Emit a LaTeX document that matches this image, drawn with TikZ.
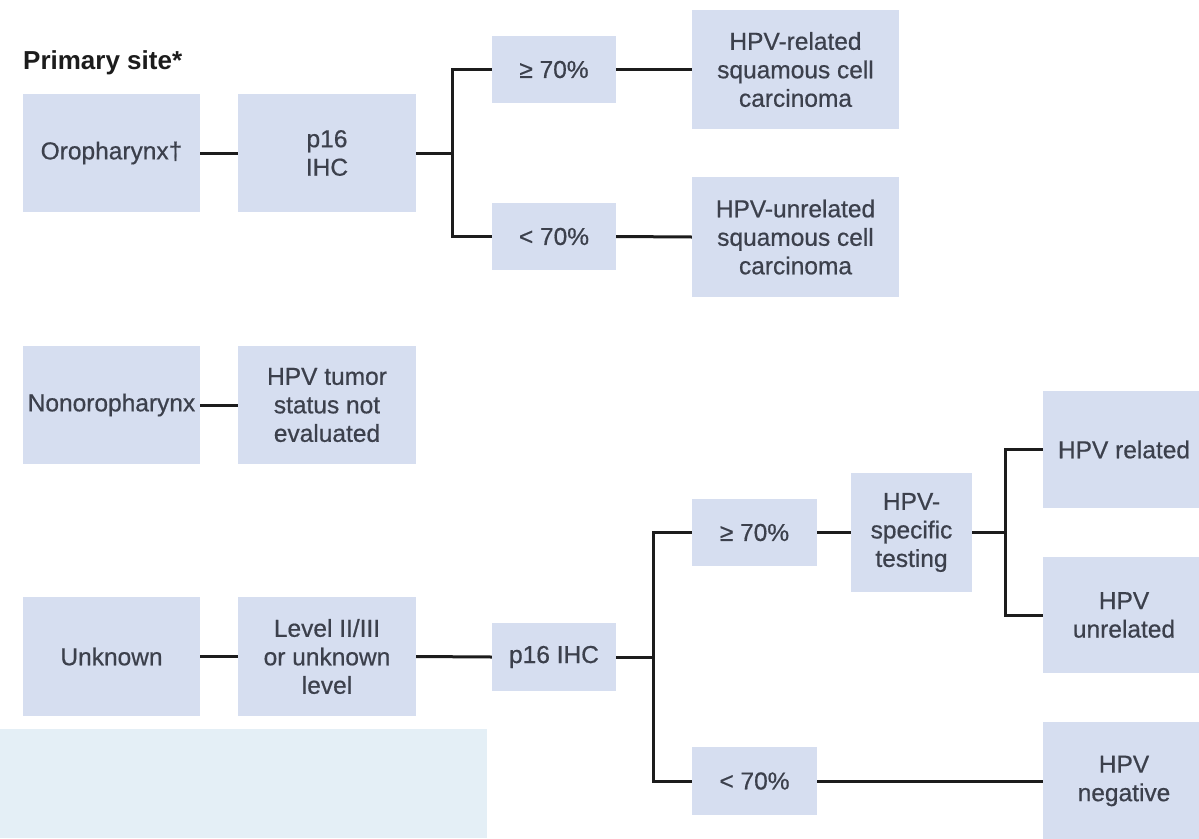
\documentclass[tikz,border=0pt]{standalone}
\usepackage{fontspec}
\setmainfont{Liberation Sans}
\newfontfamily\boxfont[FakeBold=0.6]{Liberation Sans}
\definecolor{boxfill}{HTML}{D6DEF0}
\definecolor{boxtext}{HTML}{3C404C}
\definecolor{linecol}{HTML}{1C1C1C}
\definecolor{panel}{HTML}{E4EFF6}
\begin{document}
\begin{tikzpicture}[x=1pt,y=-1pt,
  bx/.style={fill=boxfill,draw=none,inner sep=0pt,align=center,text=boxtext,
    font=\boxfont\fontsize{24.5}{28.5}\selectfont},
  con/.style={draw=linecol,line width=3pt}]
\useasboundingbox (0,0) rectangle (1199,838);
\clip (0,0) rectangle (1199,838);
\fill[white] (0,0) rectangle (1199,838);
\fill[panel] (0,729) rectangle (487,838);

\node[anchor=base west,inner sep=0pt,text=linecol,font=\fontsize{26}{30}\selectfont\bfseries] (title) at (23,69) {Primary site*};

% top row
\node[bx,minimum width=177pt,minimum height=118pt] (oro) at (111.5,153) {Oropharynx†};
\node[bx,minimum width=178pt,minimum height=118pt] (p16a) at (327,153) {p16\\IHC};
\node[bx,minimum width=124pt,minimum height=67pt] (ge1) at (554,69.5) {≥ 70\%};
\node[bx,minimum width=207pt,minimum height=119pt] (rel1) at (795.5,69.5) {HPV-related\\squamous cell\\carcinoma};
\node[bx,minimum width=124pt,minimum height=67pt] (lt1) at (554,236.5) {< 70\%};
\node[bx,minimum width=207pt,minimum height=120pt] (unrel1) at (795.5,237) {HPV-unrelated\\squamous cell\\carcinoma};

% middle row
\node[bx,minimum width=177pt,minimum height=118pt] (non) at (111.5,405) {Nonoropharynx};
\node[bx,minimum width=178pt,minimum height=118pt] (status) at (327,405) {HPV tumor\\status not\\evaluated};

% bottom row
\node[bx,minimum width=177pt,minimum height=119pt] (unk) at (111.5,656.5) {Unknown};
\node[bx,minimum width=178pt,minimum height=119pt] (level) at (327,656.5) {Level II/III\\or unknown\\level};
\node[bx,minimum width=124pt,minimum height=68pt] (p16b) at (554,657) {p16 IHC};
\node[bx,minimum width=125pt,minimum height=67pt] (ge2) at (754.5,532.5) {≥ 70\%};
\node[bx,minimum width=121pt,minimum height=119pt] (spec) at (911.5,532.5) {HPV-\\specific\\testing};
\node[bx,minimum width=125pt,minimum height=68pt] (lt2) at (754.5,781) {< 70\%};
\node[bx,minimum width=162pt,minimum height=117pt] (hrel) at (1124,449.5) {HPV related};
\node[bx,minimum width=162pt,minimum height=116pt] (hunrel) at (1124,615) {HPV\\unrelated};
\node[bx,minimum width=162pt,minimum height=118pt] (hneg) at (1124,781) {HPV\\negative};

\coordinate (b1) at (452,153);
\coordinate (b2) at (653,657);
\coordinate (b3) at (1005,532.5);

\draw[con] (oro.east) -- (p16a.west);
\draw[con] (p16a.east) -- (b1);
\draw[con] (ge1.west) -| (b1) |- (lt1.west);
\draw[con] (ge1.east) -- (rel1.west);
\draw[con] (lt1.east) -- (unrel1.west);

\draw[con] (non.east) -- (status.west);

\draw[con] (unk.east) -- (level.west);
\draw[con] (level.east) -- (p16b.west);
\draw[con] (p16b.east) -- (b2);
\draw[con] (ge2.west) -| (b2) |- (lt2.west);
\draw[con] (ge2.east) -- (spec.west);
\draw[con] (spec.east) -- (b3);
\draw[con] (hrel.west) -| (b3) |- (hunrel.west);
\draw[con] (lt2.east) -- (hneg.west);
\end{tikzpicture}
\end{document}
